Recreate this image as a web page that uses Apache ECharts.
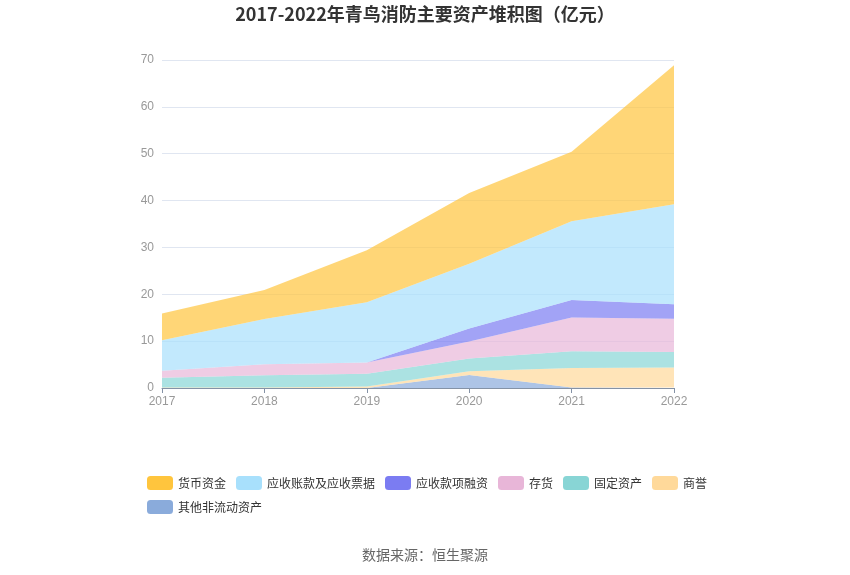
<!DOCTYPE html>
<html><head><meta charset="utf-8">
<script src="https://cdn.jsdelivr.net/npm/echarts@6/dist/echarts.min.js"></script>
<style>html,body{margin:0;padding:0;background:#fff}#c{width:850px;height:575px}</style>
</head><body><div id="c"></div>
<script>
var years = ['2017','2018','2019','2020','2021','2022'];
var names = ['货币资金','应收账款及应收票据','应收款项融资','存货','固定资产','商誉','其他非流动资产'];
var cash = [5.7, 6.2, 11.1, 15.1, 14.8, 29.7];
var receivables = [6.5, 9.65, 12.85, 13.8, 16.8, 21.3];
var recFinancing = [0, 0, 0, 2.8, 3.75, 3.1];
var inventory = [1.5, 2.35, 2.4, 3.6, 7.2, 7.1];
var fixedAssets = [2.1, 2.6, 2.75, 2.75, 3.6, 3.3];
var goodwill = [0.1, 0.1, 0.3, 0.75, 4.15, 4.3];
var otherNonCurrent = [0, 0, 0, 2.8, 0.1, 0.1];
var colors = {
  '货币资金':'#ffc53d','应收账款及应收票据':'#a8e0fc','应收款项融资':'#7b7cf2',
  '存货':'#e8b6d8','固定资产':'#88d5d5','商誉':'#ffd99a','其他非流动资产':'#8aabdb'
};
var stackOrder = [
  ['其他非流动资产', otherNonCurrent], ['商誉', goodwill], ['固定资产', fixedAssets],
  ['存货', inventory], ['应收款项融资', recFinancing], ['应收账款及应收票据', receivables],
  ['货币资金', cash]
];
var series = stackOrder.map(function(s){
  return {
    name: s[0], type: 'line', stack: 'total', data: s[1],
    symbol: 'none', smooth: false,
    lineStyle: {width: 0}, itemStyle: {color: colors[s[0]]},
    areaStyle: {color: colors[s[0]], opacity: 0.7}
  };
});
var chart = echarts.init(document.getElementById('c'));
chart.setOption({
  animation: false,
  title: {text: '2017-2022年青鸟消防主要资产堆积图（亿元）', left: 'center', top: 0,
    textStyle: {fontSize: 18, fontWeight: 'bold', color: '#333', fontFamily: 'Noto Sans CJK SC'}},
  grid: {left: 162, right: 176, top: 60, bottom: 187},
  legend: {data: names, left: 142, top: 471, width: 580, itemWidth: 26, itemHeight: 14,
    itemGap: 10, icon: 'roundRect',
    textStyle: {fontSize: 12, color: '#333', fontFamily: 'Noto Sans CJK SC'}},
  xAxis: {type: 'category', data: years, boundaryGap: false,
    axisLine: {lineStyle: {color: '#8492a6'}}, axisTick: {show: true},
    axisLabel: {color: '#999', fontSize: 12}},
  yAxis: {type: 'value', min: 0, max: 70, interval: 10,
    axisLabel: {color: '#999', fontSize: 12},
    splitLine: {lineStyle: {color: '#E0E6F1'}}},
  graphic: [{type: 'text', left: 'center', top: 548,
    style: {text: '数据来源：恒生聚源', fill: '#666', fontSize: 14, fontFamily: 'Noto Sans CJK SC'}}],
  series: series
});
</script></body></html>
